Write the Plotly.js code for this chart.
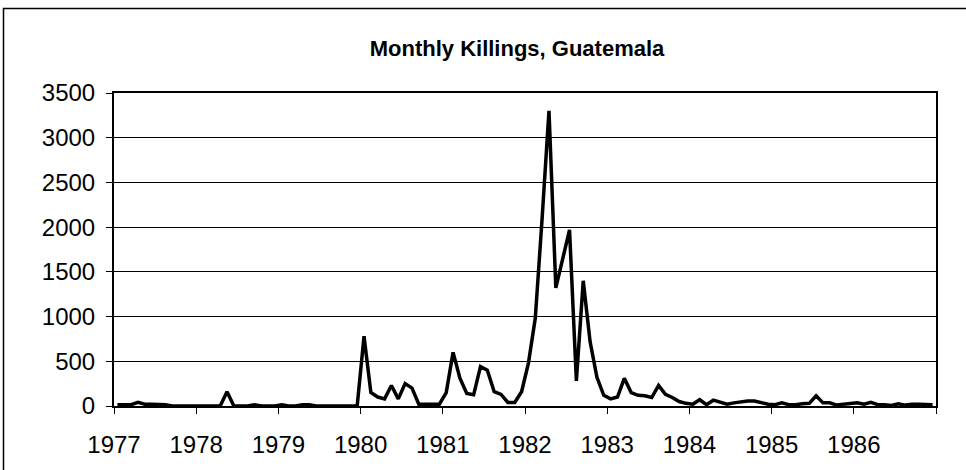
<!DOCTYPE html>
<html>
<head>
<meta charset="utf-8">
<script src="https://cdn.plot.ly/plotly-3.0.1.min.js"></script>
<style>
  html, body { margin: 0; padding: 0; background: #fff; }
  #chart { width: 966px; height: 470px; }
</style>
</head>
<body>
<div id="chart"></div>
<script>
// Monthly killings, Jan..Dec of each year
const years = [1977, 1978, 1979, 1980, 1981, 1982, 1983, 1984, 1985, 1986];
const k1977 = [15, 15, 15, 40, 20, 20, 20, 15, 0, 0, 0, 0];
const k1978 = [0, 0, 0, 0, 160, 0, 0, 0, 15, 0, 0, 0];
const k1979 = [15, 0, 0, 15, 15, 0, 0, 0, 0, 0, 0, 0];
const k1980 = [780, 150, 100, 80, 230, 80, 250, 200, 20, 20, 20, 20];
const k1981 = [150, 600, 310, 140, 125, 440, 400, 160, 130, 40, 40, 160];
const k1982 = [480, 980, 2100, 3300, 1320, 1650, 1970, 280, 1400, 720, 320, 120];
const k1983 = [80, 100, 310, 150, 120, 115, 95, 230, 130, 95, 50, 30];
const k1984 = [20, 70, 15, 65, 45, 20, 35, 45, 55, 55, 35, 20];
const k1985 = [15, 35, 15, 15, 25, 30, 115, 35, 35, 10, 20, 30];
const k1986 = [35, 20, 40, 15, 15, 5, 25, 10, 20, 20, 20, 15];
const tickYears = [1977, 1978, 1979, 1980, 1981, 1982, 1983, 1984, 1985, 1986, 1987];
const tickLabels = ["1977", "1978", "1979", "1980", "1981", "1982", "1983", "1984", "1985", "1986", ""];

const byYear = [k1977, k1978, k1979, k1980, k1981, k1982, k1983, k1984, k1985, k1986];
const xs = [], ys = [];
byYear.forEach((arr, yi) => {
  arr.forEach((v, m) => {
    xs.push(years[yi] + (m + 0.5) / 12);
    ys.push(v);
  });
});

// layout geometry (pixels)
const W = 966, H = 470;
const L = 114, R = 936, T = 93, B = 406;
const pw = R - L, ph = B - T;
const px = p => (p - L) / pw;
const py = p => (B - p) / ph;

const trace = {
  x: xs, y: ys, type: 'scatter', mode: 'lines',
  line: { color: '#000', width: 3.5 },
  hoverinfo: 'skip'
};

const fam = '"Liberation Sans", Arial, sans-serif';
const font = { family: fam, size: 24, color: '#000' };

const layout = {
  width: W, height: H,
  margin: { l: L, r: W - R, t: T, b: H - B, pad: 0 },
  paper_bgcolor: '#fff', plot_bgcolor: '#fff',
  showlegend: false,
  font: font,
  title: {
    text: '<b>Monthly Killings, Guatemala</b>',
    font: { family: fam, size: 22, color: '#000' },
    x: 517 / W, xanchor: 'center', xref: 'container',
    y: 1 - 48 / H, yanchor: 'middle', yref: 'container'
  },
  xaxis: {
    range: [1977, 1987],
    tickmode: 'array', tickvals: tickYears, ticktext: tickLabels,
    ticks: 'outside', ticklen: 6, tickwidth: 1, tickcolor: '#000',
    showline: true, linecolor: '#000', linewidth: 2, mirror: true,
    showgrid: false, zeroline: false,
    tickfont: font, ticklabelstandoff: 10, fixedrange: true
  },
  yaxis: {
    range: [0, 3500], dtick: 500, tick0: 0,
    ticks: 'outside', ticklen: 6, tickwidth: 1, tickcolor: '#000',
    showline: true, linecolor: '#000', linewidth: 2, mirror: true,
    showgrid: true, gridcolor: '#000', gridwidth: 1,
    zeroline: false, tickfont: font, ticklabelstandoff: 6, fixedrange: true
  },
  shapes: [{
    type: 'rect', xref: 'paper', yref: 'paper',
    x0: px(3.5), x1: px(975), y0: py(480), y1: py(8.5),
    line: { color: '#000', width: 1.5 }, fillcolor: 'rgba(0,0,0,0)', layer: 'above'
  }]
};

Plotly.newPlot('chart', [trace], layout, { staticPlot: true, displayModeBar: false });
</script>
</body>
</html>
